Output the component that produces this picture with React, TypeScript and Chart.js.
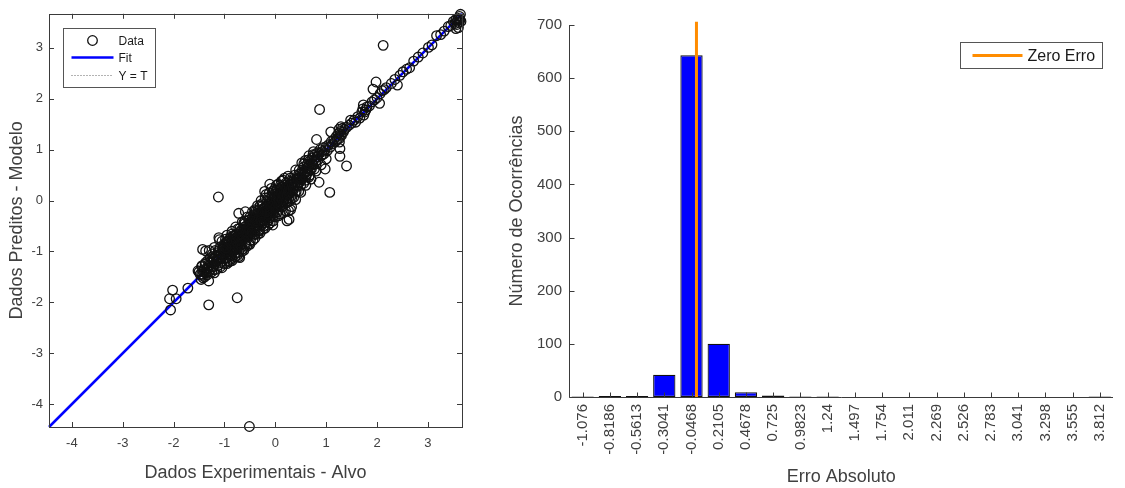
import React, { useEffect, useRef } from 'react';
import { Chart, registerables } from 'chart.js';

Chart.register(...registerables);

const FONT = '"Liberation Sans", Arial, Helvetica, sans-serif';
const TEXT = '#404040';
const AXIS = '#3a3a3a';

// ---------- Left panel: regression scatter ----------
const scatterTicks = [-4, -3, -2, -1, 0, 1, 2, 3];
const scatterMin = -4.45;
const scatterMax = 3.67;

const bandLow: [number, number][] = [
  [-1.52, -1.38], [-1.48, -1.45], [-1.45, -1.3], [-1.42, -1.52], [-1.4, -1.36], [-1.38, -1.25],
  [-1.36, -1.42], [-1.35, -1.33], [-1.33, -1.18], [-1.31, -1.4], [-1.3, -1.28], [-1.28, -1.12],
  [-1.27, -1.35], [-1.25, -1.22], [-1.24, -1.05], [-1.22, -1.3], [-1.21, -1.15], [-1.19, -1.25],
  [-1.18, -0.98], [-1.16, -1.2], [-1.15, -1.08], [-1.13, -1.28], [-1.12, -1.02], [-1.1, -1.15],
  [-1.09, -0.92], [-1.07, -1.22], [-1.06, -1.05], [-1.04, -0.95], [-1.03, -1.18], [-1.02, -1.08],
  [-1.01, -0.86], [-1.15, -1.35], [-1.25, -1.4], [-1.45, -1.45], [-1.39, -1.5],
];

const bandMidLow: [number, number][] = [
  [-0.99, -1.02], [-0.98, -0.88], [-0.97, -1.12], [-0.96, -0.95], [-0.95, -0.8], [-0.94, -1.05],
  [-0.93, -0.9], [-0.92, -1.18], [-0.91, -0.84], [-0.9, -0.97], [-0.89, -0.75], [-0.88, -1.08],
  [-0.87, -0.88], [-0.86, -0.93], [-0.85, -0.78], [-0.84, -1.02], [-0.83, -0.85], [-0.82, -0.7],
  [-0.81, -0.95], [-0.8, -0.82], [-0.79, -1.1], [-0.78, -0.74], [-0.77, -0.88], [-0.76, -0.65],
  [-0.75, -0.95], [-0.74, -0.8], [-0.73, -0.7], [-0.72, -1.02], [-0.71, -0.76], [-0.7, -0.62],
  [-0.69, -0.88], [-0.68, -0.72], [-0.67, -0.58], [-0.66, -0.82], [-0.65, -0.66], [-0.64, -0.95],
  [-0.63, -0.6], [-0.62, -0.74], [-0.61, -0.52], [-0.6, -0.85], [-0.59, -0.66], [-0.58, -0.56],
  [-0.57, -0.78], [-0.56, -0.62], [-0.55, -0.48], [-0.54, -0.7], [-0.53, -0.58], [-0.52, -0.85],
  [-0.51, -0.5], [-0.5, -0.64], [-0.72, -1.1], [-0.7, -1.12],
];

const bandMid: [number, number][] = [
  [-0.49, -0.42], [-0.48, -0.6], [-0.47, -0.5], [-0.46, -0.36], [-0.45, -0.55], [-0.44, -0.45],
  [-0.43, -0.68], [-0.42, -0.38], [-0.41, -0.5], [-0.4, -0.3], [-0.39, -0.58], [-0.38, -0.42],
  [-0.37, -0.34], [-0.36, -0.52], [-0.35, -0.25], [-0.34, -0.45], [-0.33, -0.36], [-0.32, -0.6],
  [-0.31, -0.28], [-0.3, -0.4], [-0.29, -0.2], [-0.28, -0.48], [-0.27, -0.32], [-0.26, -0.25],
  [-0.25, -0.4], [-0.24, -0.16], [-0.23, -0.3], [-0.22, -0.5], [-0.21, -0.22], [-0.2, -0.35],
  [-0.19, -0.12], [-0.18, -0.28], [-0.17, -0.2], [-0.16, -0.42], [-0.15, -0.08], [-0.14, -0.25],
  [-0.13, -0.15], [-0.12, -0.34], [-0.11, -0.05], [-0.1, -0.2], [-0.09, -0.1], [-0.08, -0.3],
  [-0.07, 0.02], [-0.06, -0.15], [-0.05, -0.06], [-0.04, -0.24], [-0.03, 0.06], [-0.02, -0.1],
  [-0.01, -0.02], [-0.3, -0.1], [-0.2, 0.05], [-0.12, 0.15], [-0.05, 0.18], [-0.4, -0.18],
  [-0.6, -0.4], [-0.11, 0.32], [-0.21, 0.18],
];

const bandCore: [number, number][] = [
  [-0.95, -0.98], [-0.9, -0.9], [-0.85, -0.86], [-0.8, -0.92], [-0.75, -0.76], [-0.7, -0.74],
  [-0.65, -0.72], [-0.6, -0.62], [-0.55, -0.55], [-0.5, -0.53], [-0.45, -0.47], [-0.4, -0.42],
  [-0.35, -0.38], [-0.3, -0.33], [-0.25, -0.26], [-0.2, -0.24], [-0.15, -0.18], [-0.1, -0.12],
  [-0.05, -0.09], [0.0, -0.02], [0.05, 0.02], [0.1, 0.12], [0.15, 0.16], [0.2, 0.22],
  [0.25, 0.27], [0.3, 0.32], [0.35, 0.34], [-0.92, -0.8], [-0.82, -0.78], [-0.72, -0.66],
  [-0.62, -0.56], [-0.52, -0.46], [-0.42, -0.36], [-0.32, -0.26], [-0.22, -0.16], [-0.12, -0.06],
  [-0.02, 0.04], [0.08, 0.14], [0.18, 0.24], [-0.88, -1.0], [-0.78, -0.96], [-0.68, -0.8],
  [-0.58, -0.72], [-0.48, -0.66], [-0.38, -0.54], [-0.28, -0.42], [-0.18, -0.32], [-0.08, -0.22],
  [0.02, -0.1], [0.12, -0.02], [0.22, 0.04],
];

const bandSpreadA: [number, number][] = [
  [-1.44, -1.28], [-1.41, -1.4], [-1.37, -1.22], [-1.34, -1.46], [-1.29, -1.2], [-1.26, -1.3],
  [-1.23, -1.14], [-1.2, -1.36], [-1.17, -1.1], [-1.14, -1.16], [-1.11, -0.98], [-1.08, -1.3],
  [-1.05, -1.12], [-1.02, -0.92], [-1.0, -1.24], [-0.97, -0.82], [-0.94, -1.12], [-0.91, -1.04],
  [-0.88, -0.72], [-0.85, -1.14], [-0.82, -0.96], [-0.79, -0.68], [-0.76, -1.02], [-0.73, -0.88],
  [-0.7, -0.55], [-0.67, -0.92], [-0.64, -0.78], [-0.61, -0.46], [-0.58, -0.86], [-0.55, -0.7],
  [-0.52, -0.38], [-0.49, -0.78], [-0.46, -0.62], [-0.43, -0.28], [-0.4, -0.66], [-0.37, -0.5],
  [-0.34, -0.2], [-0.31, -0.58], [-0.28, -0.38], [-0.25, -0.1], [-0.22, -0.44], [-0.19, -0.3],
  [-0.16, -0.02], [-0.13, -0.38], [-0.1, -0.24], [-0.07, 0.1], [-0.04, -0.3], [-0.01, -0.16],
  [0.02, 0.2], [0.05, -0.22], [0.08, -0.06], [0.11, 0.26], [0.14, -0.12], [0.17, 0.02],
  [0.2, 0.34], [0.23, -0.04], [0.26, 0.12], [0.29, 0.44], [0.32, 0.04], [0.35, 0.2],
  [0.38, 0.5], [0.41, 0.18], [0.44, 0.3], [0.47, 0.6], [0.5, 0.3], [0.53, 0.44],
  [0.56, 0.72], [0.59, 0.4], [0.62, 0.52], [0.65, 0.8], [0.68, 0.5], [0.71, 0.62],
  [0.74, 0.9], [0.77, 0.62], [0.8, 0.72],
];

const bandSpreadB: [number, number][] = [
  [-1.32, -1.32], [-1.22, -1.2], [-1.12, -1.1], [-1.02, -1.0], [-0.97, -0.93], [-0.87, -0.84],
  [-0.77, -0.8], [-0.67, -0.66], [-0.57, -0.62], [-0.47, -0.44], [-0.37, -0.4], [-0.27, -0.24],
  [-0.17, -0.22], [-0.07, -0.04], [0.03, 0.0], [0.13, 0.16], [0.23, 0.2], [0.33, 0.36],
  [0.43, 0.42], [0.53, 0.52], [0.63, 0.64], [0.73, 0.72], [0.83, 0.86], [0.93, 0.9],
  [-0.98, -0.76], [-0.86, -0.66], [-0.74, -0.56], [-0.62, -0.44], [-0.5, -0.32], [-0.38, -0.2],
  [-0.26, -0.06], [-0.14, 0.06], [-0.02, 0.22], [0.1, 0.3], [-0.9, -1.2], [-0.8, -1.06],
  [-0.66, -1.0], [-0.56, -0.9], [-0.44, -0.78], [-0.34, -0.66], [-0.24, -0.56], [-0.14, -0.48],
  [-0.04, -0.4], [0.06, -0.3], [0.16, -0.24], [0.26, -0.2], [0.36, 0.06], [0.46, 0.18],
  [0.56, 0.34], [0.66, 0.46],
];

const bandEdges: [number, number][] = [
  [-1.3, -0.98], [-1.2, -0.92], [-1.05, -0.8], [-0.95, -0.68], [-0.85, -0.6], [-0.78, -0.52],
  [-0.65, -0.42], [-0.55, -0.32], [-0.45, -0.22], [-0.35, -0.1], [-0.28, 0.0], [-0.18, 0.12],
  [-0.08, 0.24], [0.02, 0.3], [0.12, 0.38], [0.25, 0.48], [0.4, 0.6], [0.52, 0.74],
  [0.66, 0.88], [0.75, 0.96], [-1.2, -1.42], [-1.05, -1.32], [-0.95, -1.24], [-0.85, -1.18],
  [-0.75, -1.08], [-0.62, -0.98], [-0.5, -0.86], [-0.4, -0.74], [-0.3, -0.64], [-0.2, -0.54],
  [-0.1, -0.44], [0.0, -0.32], [0.1, -0.26], [0.3, -0.18], [0.4, 0.02], [0.5, 0.16],
  [0.6, 0.3], [0.7, 0.42], [0.8, 0.58], [0.9, 0.7], [1.0, 0.82],
];

const bandMidHigh: [number, number][] = [
  [0.0, 0.08], [0.01, -0.12], [0.02, 0.02], [0.03, 0.15], [0.04, -0.05], [0.05, 0.06],
  [0.06, -0.18], [0.07, 0.12], [0.08, 0.0], [0.09, 0.22], [0.1, 0.05], [0.11, -0.1],
  [0.12, 0.14], [0.13, 0.04], [0.14, 0.26], [0.15, 0.1], [0.16, -0.05], [0.17, 0.18],
  [0.18, 0.08], [0.19, 0.3], [0.2, 0.14], [0.21, -0.02], [0.22, 0.22], [0.23, 0.12],
  [0.24, 0.34], [0.25, 0.18], [0.26, 0.04], [0.27, 0.26], [0.28, 0.16], [0.29, 0.38],
  [0.3, 0.22], [0.32, 0.1], [0.33, 0.3], [0.35, 0.24], [0.36, 0.42], [0.38, 0.3],
  [0.39, 0.16], [0.4, 0.36], [0.42, 0.44], [0.43, 0.28], [0.45, 0.4], [0.46, 0.52],
  [0.48, 0.36], [0.49, 0.46], [0.15, 0.4], [0.05, 0.32], [0.2, -0.2], [0.32, -0.12],
  [-0.05, -0.48], [0.23, -0.4], [0.27, -0.37], [0.28, -0.01], [0.18, 0.44],
];

const bandHigh: [number, number][] = [
  [0.5, 0.54], [0.52, 0.42], [0.53, 0.6], [0.55, 0.5], [0.56, 0.66], [0.58, 0.56],
  [0.6, 0.46], [0.61, 0.64], [0.63, 0.72], [0.64, 0.58], [0.66, 0.68], [0.68, 0.78],
  [0.69, 0.62], [0.71, 0.74], [0.73, 0.84], [0.74, 0.7], [0.76, 0.8], [0.78, 0.9],
  [0.79, 0.76], [0.81, 0.86], [0.83, 0.94], [0.84, 0.8], [0.86, 0.92], [0.88, 1.0],
  [0.9, 0.88], [0.92, 0.96], [0.94, 1.04], [0.96, 0.92], [0.98, 1.0], [1.0, 1.06],
  [0.59, 0.79], [0.81, 1.2], [1.09, 1.35], [0.86, 0.36], [0.98, 0.62], [1.27, 0.87],
  [1.4, 0.68], [1.07, 0.16],
];

const bandUpper: [number, number][] = [
  [1.02, 0.98], [1.05, 1.1], [1.08, 1.05], [1.1, 1.16], [1.13, 1.12], [1.15, 1.2],
  [1.18, 1.16], [1.2, 1.26], [1.22, 1.2], [1.24, 1.32], [1.25, 1.4], [1.26, 1.15],
  [1.28, 1.36], [1.29, 1.45], [1.3, 1.28], [1.32, 1.42], [1.34, 1.35], [1.36, 1.4],
  [1.4, 1.44], [1.45, 1.48], [1.48, 1.58], [1.5, 1.52], [1.55, 1.58], [1.58, 1.54],
  [1.62, 1.65], [1.66, 1.62], [1.7, 1.74], [1.72, 1.8], [1.73, 1.88], [1.74, 1.68],
  [1.76, 1.74], [1.78, 1.78], [1.8, 1.84], [1.85, 1.86], [1.9, 1.94], [1.95, 1.98],
  [2.0, 2.02], [2.05, 1.91], [2.06, 2.1], [2.1, 2.16], [2.14, 2.18], [2.18, 2.22],
  [1.92, 2.19], [1.98, 2.33], [2.4, 2.27], [1.27, 1.02], [1.26, 1.22], [1.28, 1.3],
];

const bandTop: [number, number][] = [
  [2.28, 2.3], [2.35, 2.38], [2.45, 2.46], [2.51, 2.53], [2.58, 2.58], [2.64, 2.61],
  [2.72, 2.74], [2.81, 2.82], [2.9, 2.9], [3.01, 3.01], [3.08, 3.06], [3.17, 3.24],
  [3.25, 3.26], [3.32, 3.33], [3.4, 3.42], [3.45, 3.44], [3.5, 3.52], [3.53, 3.48],
  [3.55, 3.56], [3.57, 3.46], [3.58, 3.54], [3.6, 3.58], [3.61, 3.5], [3.62, 3.62],
  [3.63, 3.55], [3.64, 3.66], [3.65, 3.52], [3.6, 3.4], [3.55, 3.38],
];

const bandTail: [number, number][] = [
  [-2.02, -1.76], [-2.08, -1.93], [-2.06, -2.15], [-1.95, -1.93], [-1.72, -1.72],
  [-1.31, -1.58], [-1.5, -1.4], [-1.46, -1.55], [-1.43, -1.47], [-1.43, -0.96],
  [-1.37, -0.99], [-1.11, -0.73], [-1.1, -0.77], [-0.72, -0.25], [-0.59, -0.22],
];

const outliers: [number, number][] = [
  [2.12, 3.05], [0.87, 1.79], [-1.12, 0.07], [-0.75, -1.91], [-1.31, -2.05], [-0.51, -4.44],
];

const fitX = [-4.45, 3.67];
const fitY = [-4.45, 3.67];
const identityX = [-4.45, 3.67];
const identityY = [-4.45, 3.67];

// ---------- Right panel: error histogram ----------
const binLabels = [
  '-1.076', '-0.8186', '-0.5613', '-0.3041', '-0.0468', '0.2105', '0.4678', '0.725', '0.9823', '1.24',
  '1.497', '1.754', '2.011', '2.269', '2.526', '2.783', '3.041', '3.298', '3.555', '3.812',
];
const binCenters = [
  -1.076, -0.8186, -0.5613, -0.3041, -0.0468, 0.2105, 0.4678, 0.725, 0.9823, 1.24,
  1.497, 1.754, 2.011, 2.269, 2.526, 2.783, 3.041, 3.298, 3.555, 3.812,
];
const binCounts = [1, 2, 2, 42, 643, 100, 9, 3, 1, 1, 0, 0, 0, 0, 0, 0, 0, 0, 0, 1];
const histTicks = [0, 100, 200, 300, 400, 500, 600, 700];
const histMin = -1.2047;
const histMax = 3.9407;
const zeroErrorX = [0, 0];
const zeroErrorY = [0, 706];

const toXY = (xs: number[], ys: number[]) => xs.map((x, i) => ({ x, y: ys[i] }));

const allScatter = [
  ...bandLow, ...bandMidLow, ...bandMid, ...bandCore, ...bandSpreadA, ...bandSpreadB, ...bandEdges,
  ...bandMidHigh, ...bandHigh, ...bandUpper, ...bandTop, ...bandTail, ...outliers,
].map(([x, y]) => ({ x, y }));

const leftFrame = {
  id: 'leftFrame',
  afterDraw(chart: any) {
    const { ctx, chartArea: a, scales } = chart;
    const x = scales.x, y = scales.y;
    ctx.save();
    ctx.strokeStyle = AXIS;
    ctx.lineWidth = 1;
    ctx.strokeRect(Math.round(a.left) + 0.5, Math.round(a.top) + 0.5, Math.round(a.right - a.left), Math.round(a.bottom - a.top));
    ctx.beginPath();
    for (const v of scatterTicks) {
      const px = Math.round(x.getPixelForValue(v)) + 0.5;
      ctx.moveTo(px, a.bottom); ctx.lineTo(px, a.bottom - 5);
      ctx.moveTo(px, a.top); ctx.lineTo(px, a.top + 5);
      const py = Math.round(y.getPixelForValue(v)) + 0.5;
      ctx.moveTo(a.left, py); ctx.lineTo(a.left + 5, py);
      ctx.moveTo(a.right, py); ctx.lineTo(a.right - 5, py);
    }
    ctx.stroke();

    // legend
    const bx = Math.round(a.left + 14) + 0.5;
    const by = Math.round(a.top + 14) + 0.5;
    ctx.fillStyle = '#ffffff';
    ctx.fillRect(bx, by, 92, 59);
    ctx.strokeStyle = '#555555';
    ctx.strokeRect(bx, by, 92, 59);
    const rows = [by + 12, by + 29, by + 47];
    ctx.strokeStyle = '#111111';
    ctx.lineWidth = 1.3;
    ctx.beginPath();
    ctx.arc(bx + 29, rows[0], 4.8, 0, Math.PI * 2);
    ctx.stroke();
    ctx.strokeStyle = '#0000ff';
    ctx.lineWidth = 2.5;
    ctx.beginPath();
    ctx.moveTo(bx + 8, rows[1]); ctx.lineTo(bx + 50, rows[1]);
    ctx.stroke();
    ctx.strokeStyle = '#666666';
    ctx.lineWidth = 1;
    ctx.setLineDash([1, 2]);
    ctx.beginPath();
    ctx.moveTo(bx + 8, rows[2]); ctx.lineTo(bx + 50, rows[2]);
    ctx.stroke();
    ctx.setLineDash([]);
    ctx.fillStyle = '#1a1a1a';
    ctx.font = `12px ${FONT}`;
    ctx.textBaseline = 'middle';
    ctx.textAlign = 'left';
    ctx.fillText('Data', bx + 55, rows[0] + 1);
    ctx.fillText('Fit', bx + 55, rows[1] + 1);
    ctx.fillText('Y = T', bx + 55, rows[2] + 1);
    ctx.restore();
  },
};

const rightFrame = {
  id: 'rightFrame',
  afterDraw(chart: any) {
    const { ctx, chartArea: a, scales } = chart;
    const x = scales.x, y = scales.y;
    ctx.save();
    ctx.strokeStyle = AXIS;
    ctx.lineWidth = 1;
    const left = Math.round(a.left) + 0.5;
    const bottom = Math.round(a.bottom) + 0.5;
    ctx.beginPath();
    ctx.moveTo(left, Math.round(a.top));
    ctx.lineTo(left, bottom);
    ctx.lineTo(Math.round(a.right), bottom);
    for (const v of histTicks) {
      const py = Math.round(y.getPixelForValue(v)) + 0.5;
      ctx.moveTo(left, py); ctx.lineTo(left + 5, py);
    }
    for (const v of binCenters) {
      const px = Math.round(x.getPixelForValue(v)) + 0.5;
      ctx.moveTo(px, bottom); ctx.lineTo(px, bottom - 5);
    }
    ctx.stroke();

    // legend
    const bx = Math.round(a.right - 153) + 0.5;
    const by = Math.round(a.top + 17) + 0.5;
    const bw = 142, bh = 26;
    ctx.fillStyle = '#ffffff';
    ctx.fillRect(bx, by, bw, bh);
    ctx.strokeStyle = '#555555';
    ctx.lineWidth = 1;
    ctx.strokeRect(bx, by, bw, bh);
    ctx.strokeStyle = '#ff8c00';
    ctx.lineWidth = 3;
    ctx.beginPath();
    ctx.moveTo(bx + 12, by + bh / 2); ctx.lineTo(bx + 62, by + bh / 2);
    ctx.stroke();
    ctx.fillStyle = '#1a1a1a';
    ctx.font = `16px ${FONT}`;
    ctx.textBaseline = 'middle';
    ctx.textAlign = 'left';
    ctx.fillText('Zero Erro', bx + 67, by + bh / 2 + 1);
    ctx.restore();
  },
};

function ScatterPanel() {
  const ref = useRef<HTMLCanvasElement>(null);
  useEffect(() => {
    const chart = new Chart(ref.current as HTMLCanvasElement, {
      type: 'scatter',
      data: {
        datasets: [
          {
            label: 'Data',
            data: allScatter,
            showLine: false,
            pointStyle: 'circle',
            pointRadius: 4.8,
            pointBorderWidth: 1.3,
            pointBorderColor: '#111111',
            pointBackgroundColor: 'rgba(0,0,0,0)',
            borderColor: '#111111',
            backgroundColor: 'rgba(0,0,0,0)',
            order: 0,
            clip: false,
          } as any,
          {
            label: 'Fit',
            data: toXY(fitX, fitY),
            showLine: true,
            borderColor: '#0000ff',
            borderWidth: 2.5,
            pointRadius: 0,
            order: 1,
            clip: false,
          } as any,
          {
            label: 'Y = T',
            data: toXY(identityX, identityY),
            showLine: true,
            borderColor: '#666666',
            borderWidth: 1,
            borderDash: [1, 2],
            pointRadius: 0,
            order: 2,
            clip: false,
          } as any,
        ],
      },
      options: {
        responsive: false,
        animation: false,
        devicePixelRatio: 1,
        events: [],
        layout: { padding: { left: 0, top: 12, right: 18, bottom: 0 } },
        plugins: { legend: { display: false }, tooltip: { enabled: false } },
        scales: {
          x: {
            type: 'linear',
            min: scatterMin,
            max: scatterMax,
            afterBuildTicks: (s: any) => { s.ticks = scatterTicks.map((v) => ({ value: v })); },
            afterFit: (s: any) => { s.height = 61; },
            grid: { display: false, drawTicks: false },
            border: { display: false },
            ticks: { color: TEXT, font: { family: FONT, size: 13 }, padding: 9, autoSkip: false, maxRotation: 0 },
            title: { display: true, text: 'Dados Experimentais - Alvo', color: TEXT, font: { family: FONT, size: 18 }, padding: { top: 0, bottom: 4 } },
          },
          y: {
            type: 'linear',
            min: scatterMin,
            max: scatterMax,
            afterBuildTicks: (s: any) => { s.ticks = scatterTicks.map((v) => ({ value: v })); },
            afterFit: (s: any) => { s.width = 49; },
            grid: { display: false, drawTicks: false },
            border: { display: false },
            ticks: { color: TEXT, font: { family: FONT, size: 13 }, padding: 6, autoSkip: false },
            title: { display: true, text: 'Dados Preditos - Modelo', color: TEXT, font: { family: FONT, size: 18 }, padding: { top: 6, bottom: 0 } },
          },
        },
      } as any,
      plugins: [leftFrame],
    });
    return () => chart.destroy();
  }, []);
  return <canvas ref={ref} width={480} height={488} style={{ position: 'absolute', left: 0, top: 0, width: 480, height: 488 }} />;
}

function HistogramPanel() {
  const ref = useRef<HTMLCanvasElement>(null);
  useEffect(() => {
    const chart = new Chart(ref.current as HTMLCanvasElement, {
      type: 'bar',
      data: {
        datasets: [
          {
            type: 'line',
            label: 'Zero Erro',
            data: toXY(zeroErrorX, zeroErrorY),
            borderColor: '#ff8c00',
            borderWidth: 3,
            pointRadius: 0,
            order: 0,
            clip: false,
          } as any,
          {
            type: 'bar',
            label: 'Ocorrências',
            data: toXY(binCenters, binCounts),
            backgroundColor: '#0000ff',
            borderColor: '#111111',
            borderWidth: 1.2,
            borderSkipped: false,
            barPercentage: 0.82,
            categoryPercentage: 1,
            order: 1,
          } as any,
        ],
      },
      options: {
        responsive: false,
        animation: false,
        devicePixelRatio: 1,
        events: [],
        layout: { padding: { left: 0, top: 25, right: 9, bottom: 0 } },
        plugins: { legend: { display: false }, tooltip: { enabled: false } },
        scales: {
          x: {
            type: 'linear',
            min: histMin,
            max: histMax,
            offset: false,
            afterBuildTicks: (s: any) => { s.ticks = binCenters.map((v) => ({ value: v })); },
            afterFit: (s: any) => { s.height = 91; },
            grid: { display: false, drawTicks: false },
            border: { display: false },
            ticks: {
              color: TEXT,
              font: { family: FONT, size: 15 },
              padding: 7,
              autoSkip: false,
              minRotation: 90,
              maxRotation: 90,
              callback: (_v: any, i: number) => binLabels[i],
            },
            title: { display: true, text: 'Erro Absoluto', color: TEXT, font: { family: FONT, size: 18 }, padding: { top: 0, bottom: 0 } },
          },
          y: {
            type: 'linear',
            min: 0,
            max: 700,
            afterBuildTicks: (s: any) => { s.ticks = histTicks.map((v) => ({ value: v })); },
            afterFit: (s: any) => { s.width = 89; },
            grid: { display: false, drawTicks: false },
            border: { display: false },
            ticks: { color: TEXT, font: { family: FONT, size: 15 }, padding: 7, autoSkip: false },
            title: { display: true, text: 'Número de Ocorrências', color: TEXT, font: { family: FONT, size: 18 }, padding: { top: 26, bottom: 0 } },
          },
        },
      } as any,
      plugins: [rightFrame],
    });
    return () => chart.destroy();
  }, []);
  return <canvas ref={ref} width={645} height={488} style={{ position: 'absolute', left: 480, top: 0, width: 645, height: 488 }} />;
}

export default function App() {
  return (
    <div style={{ position: 'fixed', left: 0, top: 0, width: 1125, height: 488, background: '#ffffff', overflow: 'hidden' }}>
      <ScatterPanel />
      <HistogramPanel />
    </div>
  );
}
